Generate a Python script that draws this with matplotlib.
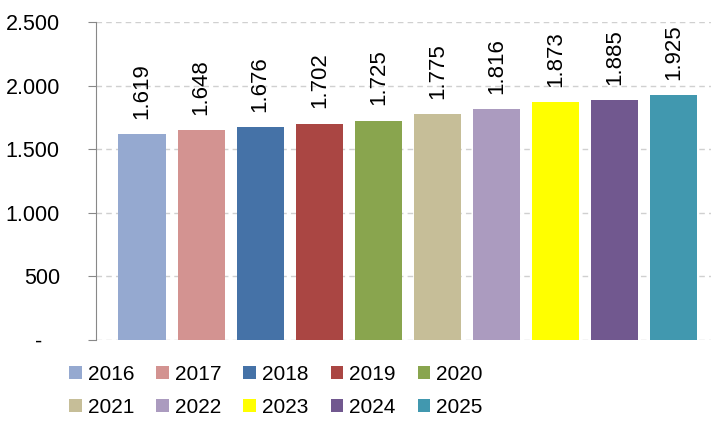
import matplotlib
matplotlib.use("Agg")
import matplotlib.pyplot as plt
from matplotlib.patches import Patch

years = ["2016", "2017", "2018", "2019", "2020", "2021", "2022", "2023", "2024", "2025"]
values = [1619, 1648, 1676, 1702, 1725, 1775, 1816, 1873, 1885, 1925]
colors = ["#95A9D0", "#D39391", "#4572A7", "#AA4643", "#89A54E",
          "#C6BE98", "#AB9BBF", "#FFFF00", "#71588F", "#4198AF"]
yticks = [0, 500, 1000, 1500, 2000, 2500]
ytick_labels = ["-   ", "500", "1.000", "1.500", "2.000", "2.500"]

plt.rcParams['font.family'] = ['Liberation Sans', 'DejaVu Sans']

fig = plt.figure(figsize=(7.11, 4.24), dpi=100)
ax = fig.add_axes([0.135, 0.198, 0.865, 0.75])

x = list(range(len(years)))
bars = ax.bar(x, values, width=0.8, color=colors, zorder=3)

for b, v in zip(bars, values):
    lbl = "{:,}".format(v).replace(",", ".")
    ax.annotate(lbl, (b.get_x() + b.get_width() / 2, v), xytext=(0, 11),
                textcoords="offset points", rotation=90, ha="center", va="bottom",
                fontsize=16)

ax.set_xlim(-0.78, 9.63)
ax.set_ylim(0, 2500)
ax.set_yticks(yticks)
ax.set_yticklabels(ytick_labels, fontsize=15.5)
ax.set_xticks([])
ax.yaxis.grid(True, color="#D0D0D0", linestyle=(0, (4, 3)), linewidth=1, zorder=0)

for s in ["top", "right", "bottom"]:
    ax.spines[s].set_visible(False)
ax.spines["left"].set_color("#888888")
ax.tick_params(axis="y", length=6, color="#888888", pad=20)

# legend fills column-first, so interleave to get row order
handles = [Patch(facecolor=c, label=y) for c, y in zip(colors, years)]
order = [0, 5, 1, 6, 2, 7, 3, 8, 4, 9]
handles = [handles[i] for i in order]
fig.legend(handles=handles, ncol=5, loc="lower left", bbox_to_anchor=(0.071, -0.028),
           frameon=False, fontsize=15, handlelength=0.6, handleheight=0.6,
           handletextpad=0.3, columnspacing=1.05, labelspacing=0.7)

fig.savefig("out.png", dpi=100)
